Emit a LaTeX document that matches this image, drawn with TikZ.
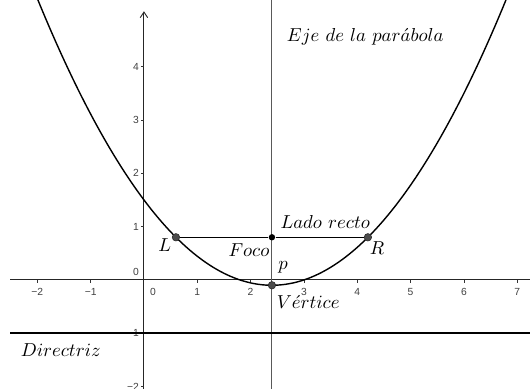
\documentclass[tikz,border=0pt]{standalone}
\usepackage{fontspec}
\usetikzlibrary{arrows.meta}
\newfontfamily\ticksf{Liberation Sans}
\begin{document}
\begin{tikzpicture}[x=1cm,y=1cm,
  axisline/.style={line width=0.5pt,black!85},
  tickmark/.style={line width=0.4pt,black!80},
  ticklab/.style={font=\ticksf\fontsize{5.5}{6}\selectfont,text=black!75,inner sep=0pt},
  curvelabel/.style={font=\fontsize{10}{12}\selectfont,inner sep=0pt},
  ptgrey/.style={circle,fill=black!70,draw=black!85,line width=0.3pt,inner sep=0pt,minimum size=0.14cm},
  ptblack/.style={circle,fill=black,inner sep=0pt,minimum size=0.12cm}]
\useasboundingbox (-2.70,-2.045) rectangle (7.24,5.25);
\begin{scope}
\clip (-2.70,-2.045) rectangle (7.24,5.25);
% axes
\coordinate (xa) at (-2.51,0);
\coordinate (xb) at (7.30,0);
\draw[axisline] (xa) -- (xb);
\coordinate (ya) at (0,-2.10);
\coordinate (yb) at (0,5.04);
\draw[axisline,-{Straight Barb[length=3pt,width=4pt]}] (ya) -- (yb);
% ticks x
\foreach \i/\t in {-2/{−2},-1/{−1},1/1,2/2,3/3,4/4,5/5,6/6,7/7}{
  \draw[tickmark] (\i,0) -- (\i,-0.055);
  \node[ticklab] (xt\i) at (\i,-0.23) {\t};
}
\node[ticklab] (xt0) at (0.17,-0.23) {0};
% ticks y
\foreach \j/\t in {-2/{−2},-1/{−1},1/1,2/2,3/3,4/4}{
  \draw[tickmark] (0,\j) -- (-0.055,\j);
  \node[ticklab,anchor=east] (yt\j) at (-0.09,\j) {\t};
}
\node[ticklab,anchor=east] (yt0) at (-0.09,0.15) {0};
% axis of the parabola
\coordinate (ea) at (2.4,-2.10);
\coordinate (eb) at (2.4,5.30);
\draw[line width=0.6pt,black!65] (ea) -- (eb);
% directrix
\coordinate (da) at (-2.51,-1);
\coordinate (db) at (7.30,-1);
\draw[line width=0.9pt,black] (da) -- (db);
% parabola
\draw[line width=0.75pt,black,domain=-2.1:6.9,samples=120,smooth] plot (\x,{-0.1+(\x-2.4)*(\x-2.4)/3.6});
\end{scope}
% latus rectum
\node[ptgrey] (L) at (0.6,0.8) {};
\node[ptgrey] (R) at (4.2,0.8) {};
\node[ptblack] (F) at (2.4,0.8) {};
\node[ptgrey] (V) at (2.4,-0.1) {};
\draw[line width=0.7pt,black] (L) -- (F) -- (R);
% labels
\node[curvelabel] (eje) at (4.15,4.56) {$Eje\ de\ la\ par\acute{a}bola$};
\node[curvelabel] (lado) at (3.40,1.09) {$Lado\ recto$};
\node[curvelabel] (foco) at (1.97,0.56) {$Foco$};
\node[curvelabel] (labL) at (0.39,0.66) {$L$};
\node[curvelabel] (labR) at (4.37,0.60) {$R$};
\node[curvelabel] (labp) at (2.61,0.24) {$p$};
\node[curvelabel] (vert) at (3.08,-0.41) {$V\acute{e}rtice$};
\node[curvelabel] (dir) at (-1.56,-1.31) {$Directriz$};
\end{tikzpicture}
\end{document}
